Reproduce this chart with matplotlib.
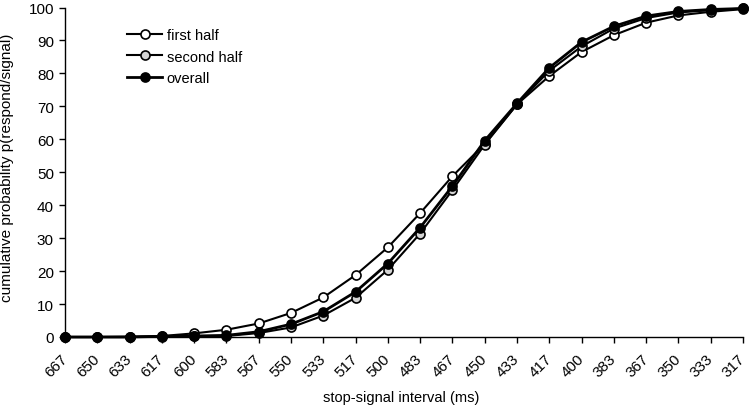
import matplotlib.pyplot as plt
import numpy as np

plt.rcParams['font.family'] = ['Liberation Sans', 'DejaVu Sans']

intervals = ['667', '650', '633', '617', '600', '583', '567', '550', '533', '517', '500',
             '483', '467', '450', '433', '417', '400', '383', '367', '350', '333', '317']

first_half = [0, 0, 0.1, 0.3, 1.1, 2.2, 4.1, 7.3, 12.0, 18.8, 27.2,
              37.6, 48.8, 58.6, 70.6, 79.2, 86.5, 91.6, 95.4, 97.6, 98.7, 99.5]
second_half = [0, 0, 0, 0.1, 0.2, 0.3, 1.2, 2.9, 6.5, 11.9, 20.4,
               31.4, 44.6, 58.4, 70.6, 80.8, 88.2, 93.6, 96.8, 98.5, 99.2, 99.7]
overall = [0, 0, 0, 0.2, 0.3, 0.5, 1.6, 3.9, 7.7, 13.7, 22.3,
           33.2, 45.8, 59.6, 70.9, 81.7, 89.5, 94.3, 97.4, 98.8, 99.4, 99.7]

fig = plt.figure(figsize=(7.51, 4.10), dpi=100)
ax = fig.add_axes([65 / 751, 1 - 338 / 410, (743 - 65) / 751, (338 - 8.5) / 410])

x = np.arange(len(intervals))
ax.plot(x, first_half, color='black', lw=1.5, marker='o', ms=6.5,
        mfc='white', mec='black', mew=1.2, label='first half', clip_on=False, zorder=3)
ax.plot(x, second_half, color='black', lw=1.5, marker='o', ms=6.5,
        mfc='#d4d4d4', mec='black', mew=1.2, label='second half', clip_on=False, zorder=4)
ax.plot(x, overall, color='black', lw=2, marker='o', ms=6.5,
        mfc='black', mec='black', mew=1.2, label='overall', clip_on=False, zorder=5)

ax.set_xlim(0, len(intervals) - 1)
ax.set_ylim(0, 100)
ax.set_yticks(range(0, 101, 10))
ax.set_xticks(x)
ax.set_xticklabels(intervals, rotation=45, ha='right', va='center', rotation_mode='anchor')
ax.tick_params(axis='y', labelsize=11, direction='out', length=4, width=1, pad=4)
ax.tick_params(axis='x', labelsize=11, direction='out', length=4, width=1, pad=10)

for s in ['top', 'right']:
    ax.spines[s].set_visible(False)
for s in ['left', 'bottom']:
    ax.spines[s].set_linewidth(1)

ax.set_xlabel('stop-signal interval (ms)', fontsize=10.5)
ax.xaxis.set_label_coords((401 - 65) / 678, (338 - 391) / 329.5)
ax.set_ylabel('cumulative probability p(respond/signal)', fontsize=11)
ax.yaxis.set_label_coords((14 - 65) / 678, (338 - 168) / 329.5)

ax.legend(loc='upper left', bbox_to_anchor=(120 / 751, 1 - 22 / 410),
          bbox_transform=fig.transFigure, frameon=False, fontsize=10.5,
          handlelength=2.4, handletextpad=0.3, labelspacing=0.5, borderpad=0)

fig.savefig('out.png', dpi=100)
